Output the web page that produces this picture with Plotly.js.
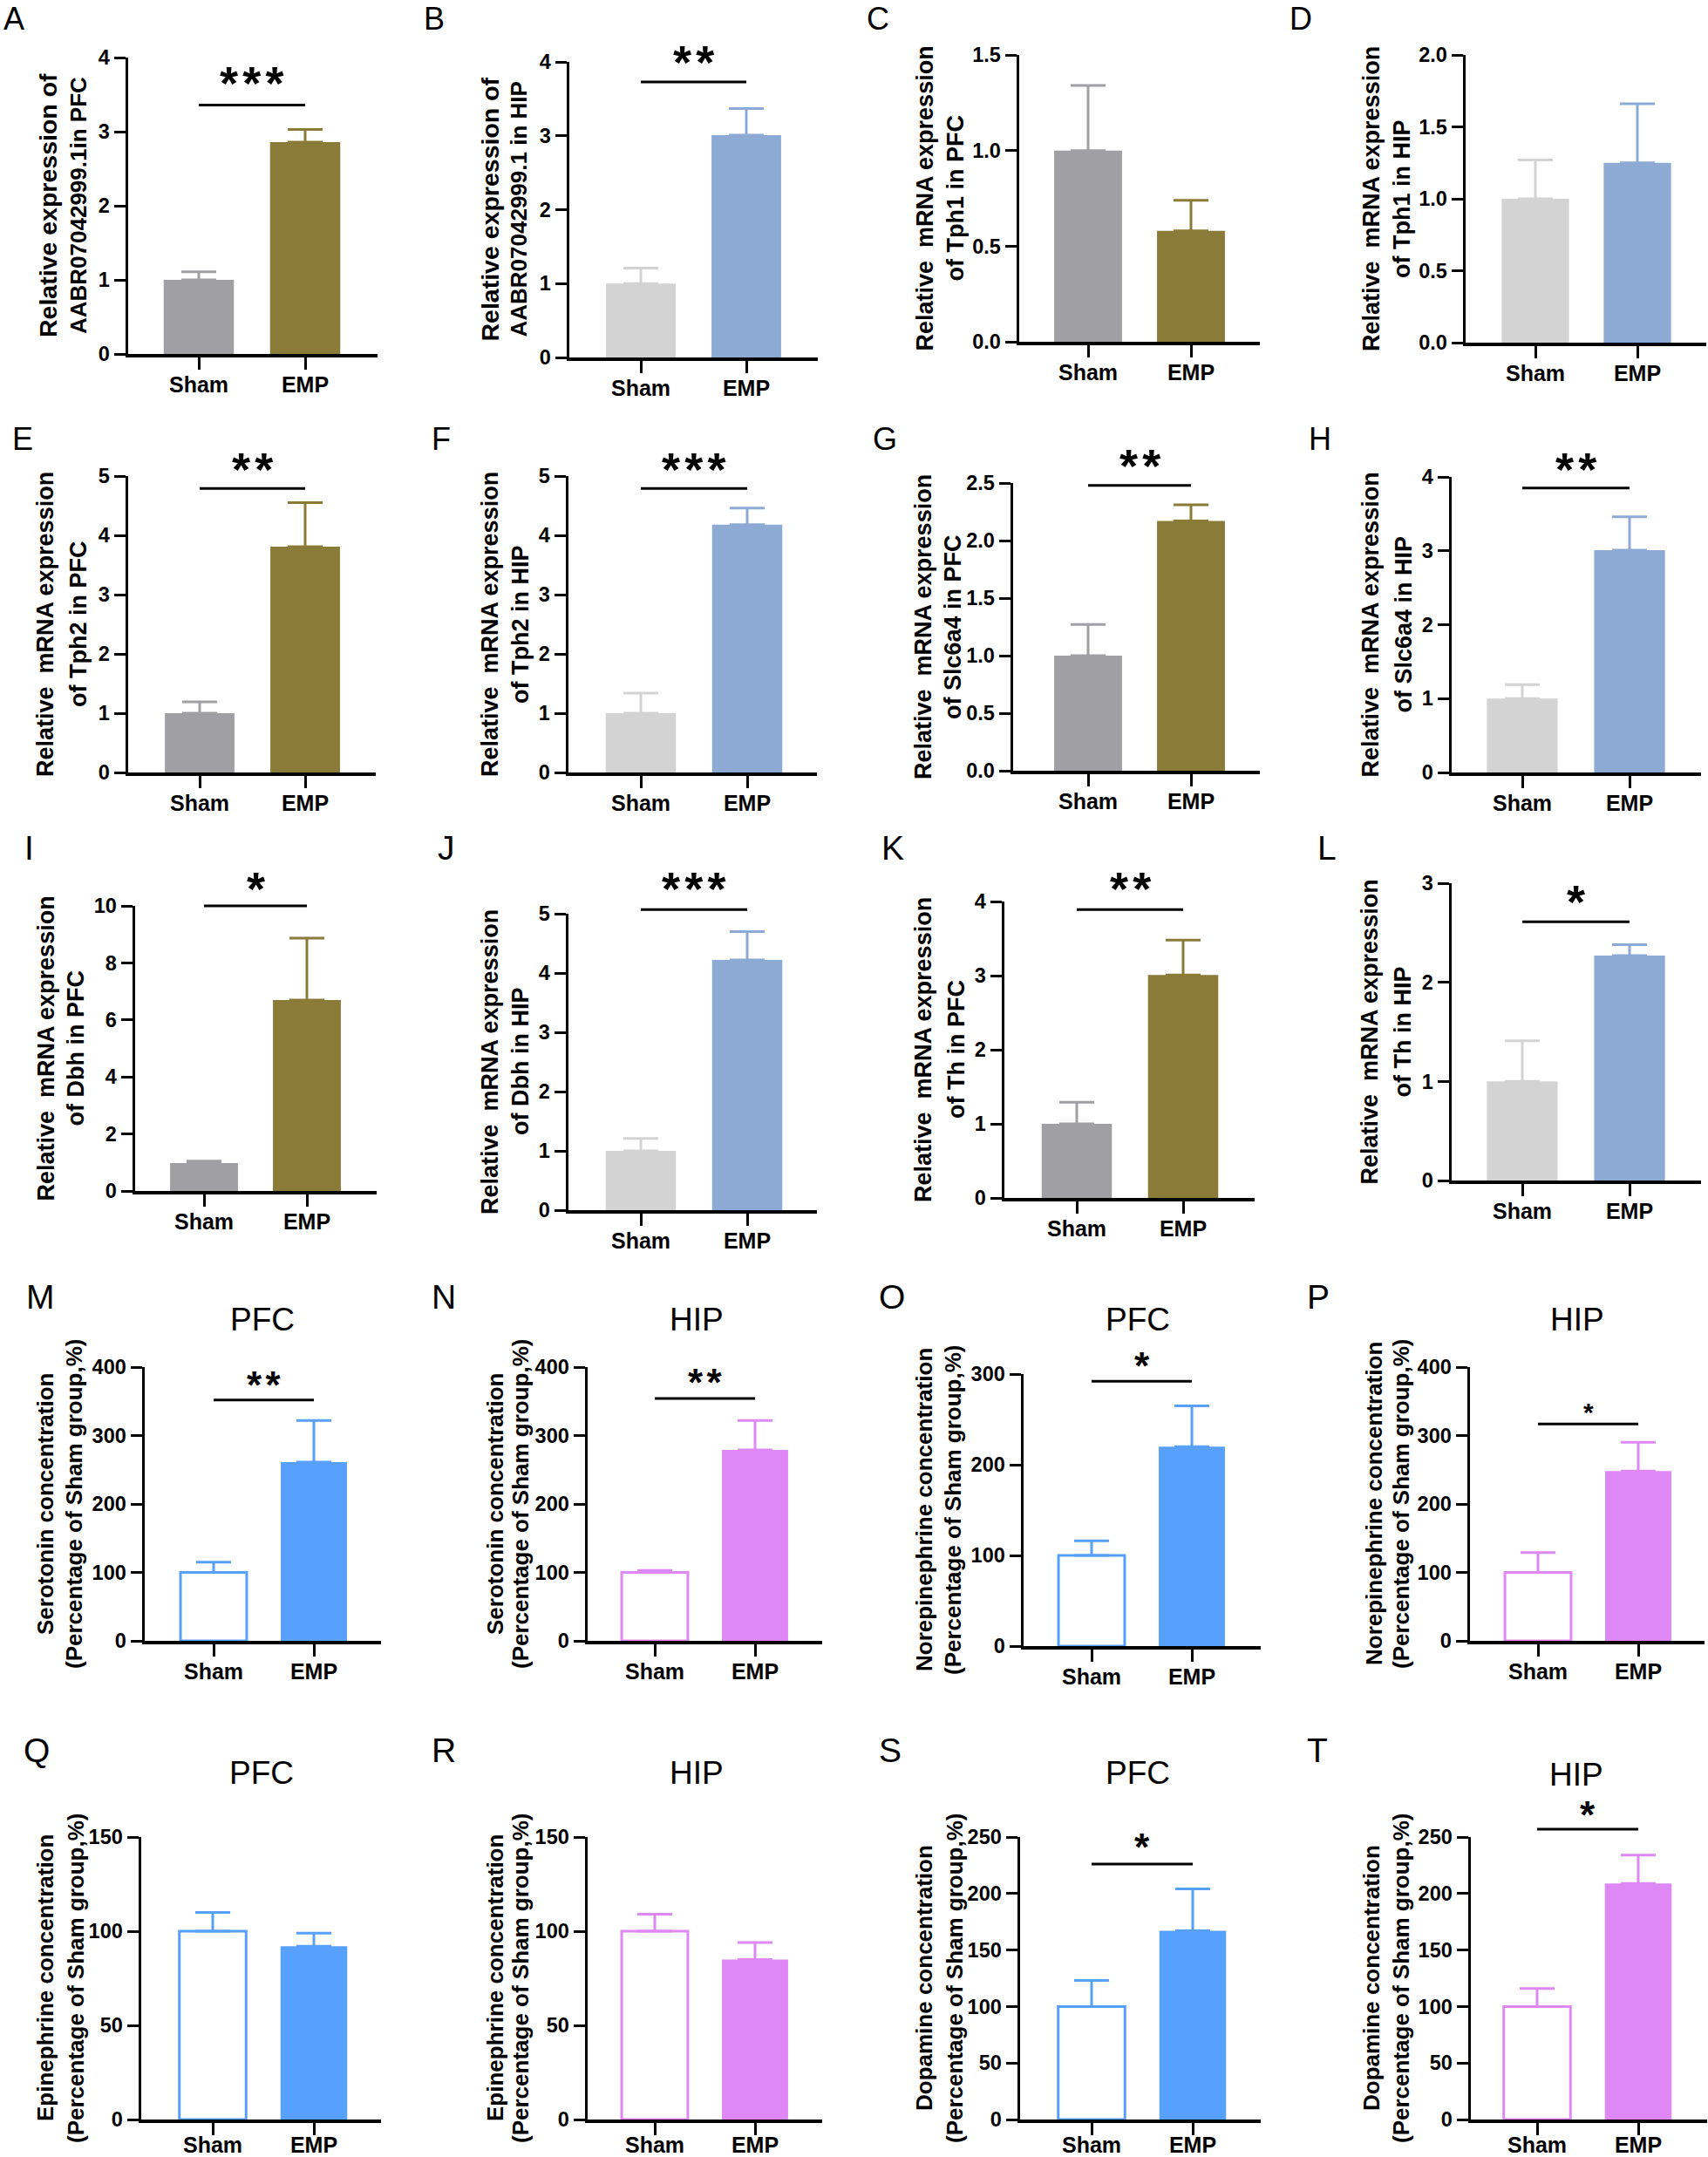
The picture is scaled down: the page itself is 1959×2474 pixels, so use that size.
<!DOCTYPE html>
<html><head><meta charset="utf-8">
<script src="https://cdn.plot.ly/plotly-3.0.1.min.js"></script>
<style>html,body{margin:0;padding:0;background:#fff}#chart{width:1959px;height:2474px}</style>
</head><body><div id="chart"></div>
<script>
// ---------------- DATA ----------------
const categories = ['Sham', 'EMP'];
const panelLetters = ['A','B','C','D','E','F','G','H','I','J','K','L','M','N','O','P','Q','R','S','T'];
const yTitleLine1 = [
  'Relative expression of','Relative expression of','Relative  mRNA expression','Relative  mRNA expression',
  'Relative  mRNA expression','Relative  mRNA expression','Relative  mRNA expression','Relative  mRNA expression',
  'Relative  mRNA expression','Relative  mRNA expression','Relative  mRNA expression','Relative  mRNA expression',
  'Serotonin concentration','Serotonin concentration','Norepinephrine concentration','Norepinephrine concentration',
  'Epinephrine concentration','Epinephrine concentration','Dopamine concentration','Dopamine concentration'];
const yTitleLine2 = [
  'AABR07042999.1in PFC','AABR07042999.1 in HIP','of Tph1 in PFC','of Tph1 in HIP',
  'of Tph2 in PFC','of Tph2 in HIP','of Slc6a4 in PFC','of Slc6a4 in HIP',
  'of Dbh in PFC','of Dbh in HIP','of Th in PFC','of Th in HIP',
  '(Percentage of Sham group,%)','(Percentage of Sham group,%)','(Percentage of Sham group,%)','(Percentage of Sham group,%)',
  '(Percentage of Sham group,%)','(Percentage of Sham group,%)','(Percentage of Sham group,%)','(Percentage of Sham group,%)'];
const panelTitles = ['','','','','','','','','','','','','PFC','HIP','PFC','HIP','PFC','HIP','PFC','HIP'];
const shamMean = [1.00,1.00,1.00,1.00, 1.00,1.00,1.00,1.00, 0.98,1.00,1.00,1.00, 100,100,100,100, 100,100,100,100];
const shamSem  = [0.11,0.21,0.34,0.27, 0.19,0.34,0.27,0.19, 0.07,0.21,0.29,0.41, 15,3,16,29, 10,9,23,16];
const empMean  = [2.86,3.01,0.58,1.25, 3.81,4.18,2.17,3.01, 6.70,4.22,3.01,2.27, 261,279,220,248, 92,85,167,209];
const empSem   = [0.17,0.36,0.16,0.41, 0.74,0.28,0.14,0.45, 2.17,0.48,0.47,0.11, 61,43,45,42, 7,9,37,25];
const yMax     = [4,4,1.5,2, 5,5,2.5,4, 10,5,4,3, 400,400,300,400, 150,150,250,250];
const yDtick   = [1,1,0.5,0.5, 1,1,0.5,1, 2,1,1,1, 100,100,100,100, 50,50,50,50];
const sigStars = ['***','**','','', '**','***','**','**', '*','***','**','*', '**','**','*','*', '','','*','*'];
const sigLineY = [3.36,3.73,null,null, 4.79,4.79,2.48,3.85, 10.0,5.07,3.89,2.61, 352,354,292,317, null,null,226,257];

// ---------------- LAYOUT (pixels) ----------------
const W = 1959, H = 2474;
// [y-axis x, x-axis right end, top tick y, zero y, Sham centre, EMP centre]
const axisBox = [
  [147,433,66,406,228,350],[653,938,71,410,735,856],[1169,1445,63,392,1248,1366],[1681,1957,63,393,1761,1878],
  [147,431,546,886,229,350],[652,937,546,886,735,857],[1162,1445,554,884,1248,1366],[1665,1951,547,886,1746,1869],
  [155,432,1039,1366,234,352],[652,937,1048,1388,735,857],[1152,1439,1034,1374,1235,1357],[1665,1951,1013,1354,1746,1869],
  [166,437,1568,1882,245,360],[674,943,1568,1882,751,866],[1174,1446,1576,1888,1252,1367],[1686,1955,1568,1882,1764,1879],
  [162,437,2107,2431,244,360],[674,943,2107,2431,751,866],[1170,1446,2107,2431,1252,1368],[1687,1958,2107,2431,1763,1879]];
const titleLineX = [
  [55,90],[562,595],[1060,1095],[1573,1608],
  [52,90],[562,597],[1059,1093],[1571,1609],
  [53,87],[562,597],[1059,1097],[1571,1609],
  [52,85],[568,597],[1060,1093],[1576,1607],
  [52,87],[568,597],[1060,1095],[1573,1607]];
const titleLineSize = [
  [28.5,26],[28.5,26],[27,27],[27,27],
  [27,27],[27,27],[27,27],[27,27],
  [27,27],[27,27],[27,27],[27,27],
  [26,26],[26,26],[26,26],[26,26],
  [26,26],[26,26],[26,26],[26,26]];
const letterPos = [
  [2,21],[484,21],[992,21],[1477,21],
  [12,503],[493,503],[999,503],[1499,503],
  [26,972],[500,972],[1009,972],[1509,972],
  [28,1488],[493,1488],[1006,1488],[1497,1488],
  [25,2008],[493,2008],[1006,2008],[1497,2008]];
const starCenterPx = {0:89,1:65,4:532,5:532,6:528,7:532,8:1013,9:1013,10:1013,11:1028,
                      12:1580,13:1577,14:1558,15:1613,18:2110,19:2073};
const panelTitlePos = {12:[301,1513],13:[799,1513],14:[1305,1513],15:[1809,1513],
                       16:[300,2033],17:[799,2033],18:[1305,2033],19:[1808,2035]};
const schemes = [
  {sham:'#A09FA4', emp:'#8B7B39', hollow:false},
  {sham:'#D3D3D3', emp:'#8CAAD3', hollow:false},
  {sham:'#57A0FC', emp:'#57A0FC', hollow:true},
  {sham:'#DE88F5', emp:'#DE88F5', hollow:true}];
const schemeOf = [0,1,0,1, 0,1,0,1, 0,1,0,1, 2,3,2,3, 2,3,2,3];

const FAM = 'Arial, "Liberation Sans", Helvetica, sans-serif';
const traces = [];
const layout = {
  width: W, height: H, margin: {l:0, r:0, t:0, b:0},
  paper_bgcolor: '#fff', plot_bgcolor: 'rgba(0,0,0,0)',
  showlegend: false, barmode: 'overlay',
  font: {family: FAM, color: '#000'},
  annotations: [], shapes: []
};

for (let i = 0; i < 20; i++) {
  const n = i + 1;
  const xid = n === 1 ? 'x' : 'x' + n;
  const yid = n === 1 ? 'y' : 'y' + n;
  const [xl, xr, yT, y0, c0, c1] = axisBox[i];
  const u = c1 - c0;
  const r0 = -(c0 - xl) / u, r1 = 1 + (xr - c1) / u;
  const sc = schemes[schemeOf[i]];
  const row = Math.floor(i / 4);

  traces.push({
    type: 'bar', x: [categories[0]], y: [shamMean[i]], xaxis: xid, yaxis: yid, width: 0.66,
    marker: {color: sc.hollow ? '#ffffff' : sc.sham, line: {color: sc.sham, width: sc.hollow ? 3 : 0}},
    error_y: {type: 'data', symmetric: false, array: [shamSem[i]], arrayminus: [0], color: sc.sham, thickness: 3, width: 20},
    hoverinfo: 'skip'
  });
  traces.push({
    type: 'bar', x: [categories[1]], y: [empMean[i]], xaxis: xid, yaxis: yid, width: 0.66,
    marker: {color: sc.emp, line: {color: sc.emp, width: 0}},
    error_y: {type: 'data', symmetric: false, array: [empSem[i]], arrayminus: [0], color: sc.emp, thickness: 3, width: 20},
    hoverinfo: 'skip'
  });

  layout['xaxis' + (n === 1 ? '' : n)] = {
    domain: [xl / W, xr / W], anchor: yid, type: 'category',
    categoryorder: 'array', categoryarray: categories, range: [r0, r1],
    showline: true, linecolor: '#000', linewidth: 3.5, mirror: false,
    ticks: 'outside', ticklen: 14, tickwidth: 3, tickcolor: '#000',
    ticklabelstandoff: row === 4 ? -10 : -4,
    tickfont: {family: FAM, size: 25, color: '#000', weight: 'bold'},
    showgrid: false, zeroline: false, fixedrange: true
  };
  layout['yaxis' + (n === 1 ? '' : n)] = {
    domain: [1 - y0 / H, 1 - yT / H], anchor: xid, range: [0, yMax[i]],
    tick0: 0, dtick: yDtick[i], tickformat: (yDtick[i] === 0.5 ? '.1f' : ''),
    showline: true, linecolor: '#000', linewidth: 3.5,
    ticks: 'outside', ticklen: 13, tickwidth: 3, tickcolor: '#000',
    tickfont: {family: FAM, size: 23.5, color: '#000', weight: 'bold'},
    showgrid: false, zeroline: false, fixedrange: true
  };

  // y-axis titles (two centred lines)
  const yMid = 1 - ((yT + y0) / 2) / H;
  [yTitleLine1[i], yTitleLine2[i]].forEach((t, j) => {
    layout.annotations.push({
      text: '<b>' + t.replace(/  /g, '&nbsp; ') + '</b>', xref: 'paper', yref: 'paper',
      x: titleLineX[i][j] / W, y: yMid, xanchor: 'center', yanchor: 'middle',
      textangle: -90, showarrow: false, font: {family: FAM, size: titleLineSize[i][j], color: '#000'}
    });
  });

  // panel letter
  const lfs = row < 2 ? 36 : 39;
  layout.annotations.push({
    text: panelLetters[i], xref: 'paper', yref: 'paper',
    x: letterPos[i][0] / W, y: 1 - letterPos[i][1] / H, xanchor: 'left', yanchor: 'middle',
    showarrow: false, font: {family: FAM, size: lfs, color: '#000'}
  });

  // panel title
  if (panelTitles[i]) {
    const p = panelTitlePos[i];
    layout.annotations.push({
      text: panelTitles[i], xref: 'paper', yref: 'paper',
      x: p[0] / W, y: 1 - p[1] / H, xanchor: 'center', yanchor: 'middle',
      showarrow: false, font: {family: FAM, size: 37, color: '#000'}
    });
  }

  // significance bar + stars
  if (sigStars[i]) {
    const fx0 = (0 - r0) / (r1 - r0), fx1 = (1 - r0) / (r1 - r0);
    const fy = sigLineY[i] / yMax[i];
    layout.shapes.push({
      type: 'line', xref: xid + ' domain', yref: yid + ' domain',
      x0: fx0, x1: fx1, y0: fy, y1: fy, line: {color: '#000', width: 3}
    });
    const sfs = (i === 15) ? 30 : (row < 3 ? 54 : 44);
    const gapSpan = '<span style="font-size:' + Math.round(sfs * 0.36) + 'px"> </span>';
    const starText = sigStars[i].split('').join(gapSpan);
    const lift = row < 3 ? 0.12 : 0.20;
    const starPx = starCenterPx[i] + lift * sfs;
    layout.annotations.push({
      text: '<b>' + starText + '</b>', xref: 'paper', yref: 'paper',
      x: ((c0 + c1) / 2) / W, y: 1 - starPx / H, xanchor: 'center', yanchor: 'middle',
      showarrow: false, font: {family: FAM, size: sfs, color: '#000'}
    });
  }
}

Plotly.newPlot('chart', traces, layout, {staticPlot: true, displayModeBar: false});
</script>
</body></html>
